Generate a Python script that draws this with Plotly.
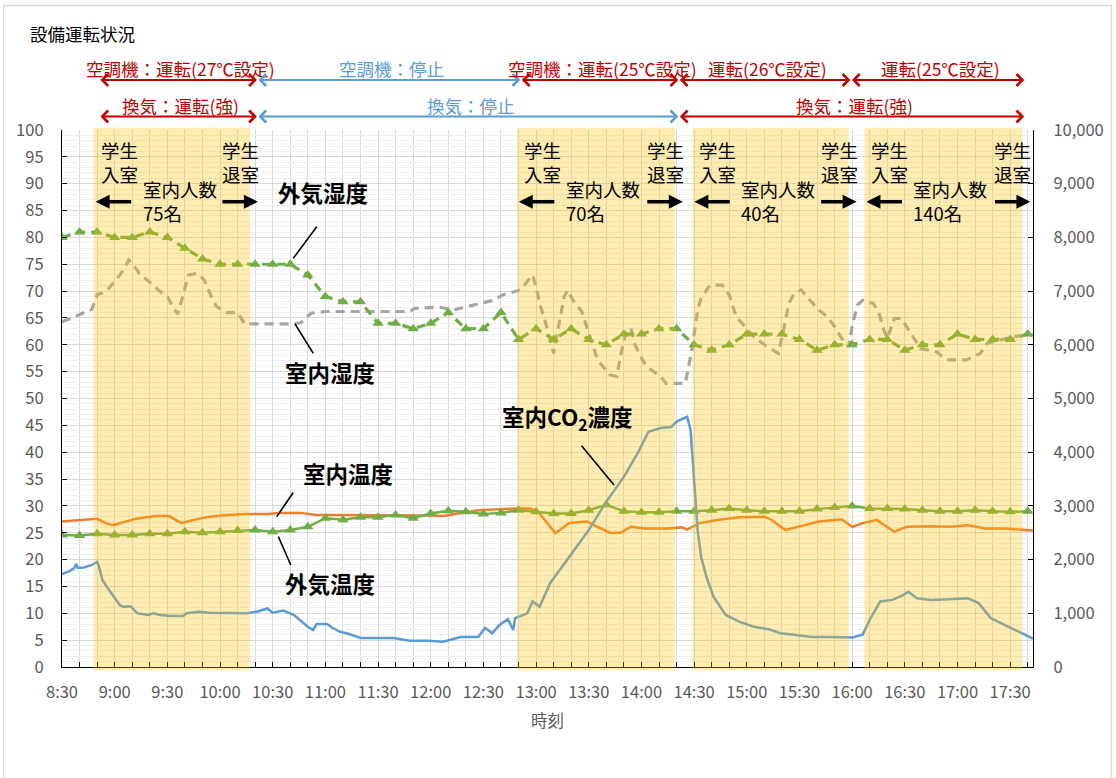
import plotly.graph_objects as go

# ---------------- data ----------------
tick_labels = ["8:30", "9:00", "9:30", "10:00", "10:30", "11:00", "11:30", "12:00", "12:30",
               "13:00", "13:30", "14:00", "14:30", "15:00", "15:30", "16:00", "16:30", "17:00", "17:30"]

# indoor CO2 (ppm, right axis)
co2_time = ["8:30", "8:34", "8:37", "8:38", "8:39", "8:42", "8:47", "8:49", "8:50", "8:51", "8:53", "8:56",
            "8:59", "9:03", "9:05", "9:09", "9:13", "9:19", "9:22", "9:26", "9:32", "9:39", "9:41", "9:48",
            "9:54", "10:00", "10:07", "10:15", "10:21", "10:27", "10:30", "10:36", "10:42", "10:50", "10:53",
            "10:55", "11:01", "11:04", "11:08", "11:14", "11:20", "11:29", "11:39", "11:48", "11:58", "12:07",
            "12:17", "12:27", "12:31", "12:35", "12:39", "12:44", "12:47", "12:48", "12:52", "12:55", "12:58",
            "13:02", "13:08", "13:19", "13:30", "13:40", "13:50", "13:58", "14:04", "14:11", "14:17", "14:20",
            "14:26", "14:28", "14:30", "14:32", "14:34", "14:37", "14:41", "14:48", "14:56", "15:04", "15:13",
            "15:19", "15:27", "15:37", "15:47", "16:00", "16:06", "16:10", "16:16", "16:23", "16:29", "16:32",
            "16:37", "16:45", "16:55", "17:06", "17:12", "17:19", "17:27", "17:35", "17:43"]
co2_ppm = [1730, 1780, 1840, 1920, 1850, 1850, 1900, 1950, 1960, 1880, 1620, 1470,
           1340, 1150, 1120, 1130, 1000, 970, 1000, 970, 950, 950, 1000, 1030,
           1010, 1010, 1000, 1000, 1030, 1090, 1010, 1050, 970, 750, 690,
           800, 800, 730, 660, 610, 540, 540, 540, 490, 490, 470,
           560, 560, 730, 630, 780, 890, 690, 910, 970, 1000, 1220,
           1120, 1560, 2050, 2550, 3080, 3540, 3990, 4380, 4450, 4470, 4570,
           4660, 4410, 3480, 2550, 2050, 1680, 1310, 970, 840, 750, 700,
           630, 600, 560, 560, 550, 600, 880, 1220, 1250, 1340, 1400,
           1280, 1250, 1260, 1280, 1190, 910, 780, 660, 530]

# indoor humidity (%)
rh_in_time = ["8:30", "8:35", "8:44", "8:47", "8:50", "8:55", "9:00", "9:05", "9:08", "9:10", "9:14", "9:19",
              "9:26", "9:30", "9:33", "9:36", "9:40", "9:42", "9:47", "9:51", "9:55", "9:58", "10:04", "10:10",
              "10:14", "10:23", "10:42", "10:46", "10:52", "11:01", "11:20", "11:48", "11:51", "12:05", "12:13",
              "12:20", "12:28", "12:36", "12:41", "12:51", "12:58", "13:00", "13:02", "13:05", "13:10", "13:12",
              "13:14", "13:16", "13:18", "13:21", "13:26", "13:35", "13:42", "13:46", "13:48", "13:51", "13:54",
              "13:56", "13:59", "14:03", "14:11", "14:14", "14:25", "14:27", "14:29", "14:32", "14:34", "14:39",
              "14:46", "14:50", "14:54", "14:59", "15:04", "15:10", "15:15", "15:18", "15:21", "15:24", "15:27",
              "15:31", "15:36", "15:41", "15:46", "15:50", "15:54", "15:58", "16:00", "16:03", "16:06", "16:12",
              "16:15", "16:18", "16:20", "16:24", "16:28", "16:32", "16:36", "16:39", "16:48", "16:54", "17:05",
              "17:13", "17:17", "17:24", "17:32", "17:40", "17:43"]
rh_in = [64.3, 64.9, 66.2, 66.6, 69.3, 69.9, 71.8, 73.9, 75.8, 75.2, 73.3, 71.9,
         69.9, 69.0, 67.1, 65.7, 70.8, 73.0, 73.3, 72.1, 69.0, 67.1, 66.0, 66.0,
         63.9, 63.9, 63.9, 64.1, 65.9, 66.2, 66.2, 66.2, 66.8, 67.0, 66.5,
         67.0, 67.7, 68.3, 69.3, 70.2, 73.0, 70.8, 67.7, 64.6, 58.4, 62.1,
         65.9, 69.0, 70.2, 68.3, 66.2, 57.2, 54.4, 54.1, 57.8, 62.1, 63.1,
         60.3, 58.1, 55.9, 54.1, 52.8, 52.8, 56.6, 59.6, 66.5, 68.7, 71.1,
         71.1, 69.3, 65.2, 63.4, 61.5, 60.0, 59.0, 58.4, 62.8, 67.7, 69.6,
         70.2, 68.3, 66.5, 65.2, 63.4, 61.2, 59.6, 63.4, 67.4, 68.3, 67.7,
         66.2, 62.8, 61.2, 64.9, 64.9, 62.8, 60.9, 59.3, 58.7, 57.2, 57.2,
         58.4, 60.3, 60.9, 61.5, 61.8, 61.8]

# outdoor data every 10 minutes from 8:30
outdoor_time = ["8:30", "8:40", "8:50", "9:00", "9:10", "9:20", "9:30", "9:40", "9:50", "10:00",
                "10:10", "10:20", "10:30", "10:40", "10:50", "11:00", "11:10", "11:20", "11:30", "11:40",
                "11:50", "12:00", "12:10", "12:20", "12:30", "12:40", "12:50", "13:00", "13:10", "13:20",
                "13:30", "13:40", "13:50", "14:00", "14:10", "14:20", "14:30", "14:40", "14:50", "15:00",
                "15:10", "15:20", "15:30", "15:40", "15:50", "16:00", "16:10", "16:20", "16:30", "16:40",
                "16:50", "17:00", "17:10", "17:20", "17:30", "17:40"]
rh_out = [80, 81, 81, 80, 80, 81, 80, 78, 76, 75,
          75, 75, 75, 75, 73, 69, 68, 68, 64, 64,
          63, 64, 66, 63, 63, 66, 61, 63, 61, 63,
          61, 60, 62, 62, 63, 63, 60, 59, 60, 62,
          62, 62, 61, 59, 60, 60, 61, 61, 59, 60,
          60, 62, 61, 61, 61, 62]
temp_out = [24.6, 24.5, 24.8, 24.6, 24.6, 24.8, 24.8, 25.2, 25.0, 25.2,
            25.4, 25.5, 25.2, 25.5, 26.1, 27.7, 27.4, 27.9, 27.9, 28.3,
            27.7, 28.6, 29.1, 28.9, 28.5, 28.7, 29.2, 28.9, 28.6, 28.6,
            29.2, 30.2, 29.0, 28.8, 28.8, 29.0, 29.0, 29.2, 29.5, 29.2,
            29.0, 29.0, 29.0, 29.4, 29.7, 30.0, 29.5, 29.5, 29.4, 29.2,
            29.0, 29.0, 29.2, 29.0, 28.9, 29.0]

# indoor temperature (deg C)
temp_in_time = ["8:30", "8:47", "8:50", "8:55", "8:59", "9:03", "9:11", "9:18", "9:24", "9:31", "9:38", "9:45",
                "9:54", "10:04", "10:15", "10:27", "10:34", "10:46", "10:55", "11:07", "11:20", "11:39", "11:58",
                "12:07", "12:17", "12:27", "12:48", "12:57", "13:02", "13:11", "13:19", "13:29", "13:35", "13:42",
                "13:48", "13:54", "14:02", "14:15", "14:23", "14:26", "14:33", "14:44", "14:56", "15:10", "15:14",
                "15:22", "15:29", "15:41", "15:54", "16:00", "16:06", "16:14", "16:24", "16:31", "16:45", "16:56",
                "17:06", "17:16", "17:27", "17:43"]
temp_in = [27.1, 27.5, 27.6, 26.8, 26.4, 26.8, 27.5, 27.9, 28.1, 28.1, 26.8, 27.4,
           28.0, 28.3, 28.5, 28.5, 28.7, 28.7, 28.3, 28.3, 28.3, 28.3, 28.2,
           28.1, 28.6, 29.2, 29.5, 29.5, 28.6, 24.9, 26.8, 27.1, 26.1, 25.0,
           25.0, 26.1, 25.8, 25.8, 26.0, 25.6, 26.8, 27.4, 27.9, 28.0, 27.4,
           25.5, 26.1, 27.1, 27.5, 26.1, 26.8, 27.4, 25.2, 26.1, 26.2, 26.1,
           26.4, 25.8, 25.8, 25.4]

# students in the room (shaded periods)
class_start = ["8:48", "12:49", "14:29", "16:07"]
class_end = ["10:17", "14:19", "15:58", "17:37"]
class_people = ["75名", "70名", "40名", "140名"]

# equipment status arrows
ac_start = ["8:51", "10:21", "12:51", "14:21", "15:59"]
ac_end = ["10:21", "12:51", "14:21", "15:59", "17:38"]
ac_text = ["空調機：運転(27℃設定)", "空調機：停止", "空調機：運転(25℃設定)", "運転(26℃設定)", "運転(25℃設定)"]
ac_on = [True, False, True, True, True]
vent_start = ["8:51", "10:21", "14:21"]
vent_end = ["10:21", "14:21", "17:38"]
vent_text = ["換気：運転(強)", "換気：停止", "換気：運転(強)"]
vent_on = [True, False, True]


def to_min(s):
    h, m = s.split(":")
    return (int(h) - 8) * 60 + int(m) - 30


# ---------------- layout constants ----------------
W, H = 1116, 778
ML, MR, MT, MB = 62, 83, 130, 111
PW, PH = W - ML - MR, H - MT - MB
X_END = to_min("17:43")
FONT = "Noto Sans CJK JP"
RED = "#C00000"
BLUE = "#5B9BD5"


def py2paper(py):
    return (H - MB - py) / PH


def px2paper(px):
    return (px - ML) / PW


fig = go.Figure()

fig.add_trace(go.Scatter(x=[to_min(t) for t in co2_time], y=co2_ppm, yaxis="y2", mode="lines",
                         line=dict(color=BLUE, width=2.5), name="室内CO2濃度"))
fig.add_trace(go.Scatter(x=[to_min(t) for t in rh_in_time], y=rh_in, mode="lines",
                         line=dict(color="#A5A5A5", width=3.2, dash="9px,6px"), name="室内湿度"))
fig.add_trace(go.Scatter(x=[to_min(t) for t in outdoor_time], y=rh_out, mode="lines+markers",
                         line=dict(color="#70AD47", width=3.2, dash="9px,6px"),
                         marker=dict(symbol="triangle-up", size=10, color="#70AD47"), name="外気湿度"))
fig.add_trace(go.Scatter(x=[to_min(t) for t in temp_in_time], y=temp_in, mode="lines",
                         line=dict(color="#ED7D31", width=2.5), name="室内温度"))
fig.add_trace(go.Scatter(x=[to_min(t) for t in outdoor_time], y=temp_out, mode="lines+markers",
                         line=dict(color="#70AD47", width=2.5),
                         marker=dict(symbol="triangle-up", size=10, color="#70AD47"), name="外気温度"))

shapes = []
# yellow shading for occupied periods
for s, e in zip(class_start, class_end):
    shapes.append(dict(type="rect", xref="x", yref="paper", x0=to_min(s), x1=to_min(e),
                       y0=-0.006, y1=1.004, fillcolor="rgba(255,192,0,0.30)", line=dict(width=0),
                       layer="above"))
# outer chart border
shapes.append(dict(type="rect", xref="paper", yref="paper", x0=px2paper(3.5), x1=px2paper(1111.5),
                   y0=py2paper(800), y1=py2paper(5.5), line=dict(color="#D9D9D9", width=1.3),
                   fillcolor="rgba(0,0,0,0)", layer="below"))

annotations = []
# title
annotations.append(dict(text="設備運転状況", xref="paper", yref="paper", x=px2paper(28), y=py2paper(33),
                        xanchor="left", yanchor="middle", showarrow=False,
                        font=dict(family=FONT, size=17.5, color="#000000")))
# axis title
annotations.append(dict(text="時刻", xref="paper", yref="paper", x=px2paper(547), y=py2paper(720),
                        xanchor="center", yanchor="middle", showarrow=False,
                        font=dict(family=FONT, size=16.5, color="#595959")))


def status_row(starts, ends, texts, flags, y_text, y_arrow):
    for s, e, t, on in zip(starts, ends, texts, flags):
        col = RED if on else BLUE
        annotations.append(dict(text="", xref="x", yref="paper", x=to_min(e), y=py2paper(y_arrow),
                                axref="x", ayref="pixel", ax=to_min(s), ay=0, showarrow=True,
                                arrowhead=4, startarrowhead=4, arrowside="end+start",
                                arrowwidth=2, arrowsize=1.15, startarrowsize=1.15, arrowcolor=col))
        annotations.append(dict(text=t, xref="x", yref="paper", x=(to_min(s) + to_min(e)) / 2,
                                y=py2paper(y_text), xanchor="center", yanchor="middle", xshift=3,
                                showarrow=False, font=dict(family=FONT, size=17.5, color=col)))


status_row(ac_start, ac_end, ac_text, ac_on, 69, 80)
status_row(vent_start, vent_end, vent_text, vent_on, 105.5, 116.5)

# occupancy annotations
for s, e, n in zip(class_start, class_end, class_people):
    x0, x1 = to_min(s), to_min(e)
    annotations.append(dict(text="学生<br>入室", xref="x", yref="y", x=x0, y=93.95, xanchor="left",
                            yanchor="middle", align="left", xshift=5, showarrow=False,
                            font=dict(family=FONT, size=18.5, color="#000000")))
    annotations.append(dict(text="学生<br>退室", xref="x", yref="y", x=x1, y=93.95, xanchor="left",
                            yanchor="middle", align="left", xshift=-30, showarrow=False,
                            font=dict(family=FONT, size=18.5, color="#000000")))
    annotations.append(dict(text="室内人数<br>" + n, xref="x", yref="y", x=x0, y=86.8, xanchor="left",
                            yanchor="middle", align="left", xshift=47, showarrow=False,
                            font=dict(family=FONT, size=18.5, color="#000000")))
    annotations.append(dict(text="", xref="x", yref="y", x=x0, y=86.65, xshift=2, ax=37, ay=0,
                            axref="pixel", ayref="pixel", showarrow=True, arrowhead=2, arrowsize=0.8,
                            arrowwidth=3.5, arrowcolor="#000000"))
    annotations.append(dict(text="", xref="x", yref="y", x=x1, y=86.65, xshift=8, ax=-37, ay=0,
                            axref="pixel", ayref="pixel", showarrow=True, arrowhead=2, arrowsize=0.8,
                            arrowwidth=3.5, arrowcolor="#000000"))

# series labels with leader lines: (text, label x[min], label y, line from, line to)
labels = [
    ("外気湿度", 148.9, 88.4, (145.1, 82.0), (131.7, 76.1)),
    ("室内湿度", 152.7, 55.0, (132.7, 63.9), (143.1, 58.4)),
    ("室内温度", 163.1, 36.2, (131.7, 32.5), (122.3, 28.0)),
    ("外気温度", 152.7, 15.7, (123.2, 24.3), (130.3, 19.0)),
    ("室内CO<sub>2</sub>濃度", 287.9, 46.4, (295.9, 41.2), (314.4, 33.9)),
]
for txt, lx, ly, p0, p1 in labels:
    annotations.append(dict(text="<b>" + txt + "</b>", xref="x", yref="y", x=lx, y=ly,
                            xanchor="center", yanchor="middle", showarrow=False,
                            font=dict(family=FONT, size=22.5, color="#000000")))
    shapes.append(dict(type="line", xref="x", yref="y", x0=p0[0], y0=p0[1], x1=p1[0], y1=p1[1],
                       line=dict(color="#000000", width=1.6), layer="above"))

tick_vals = [to_min(t) for t in tick_labels]

fig.update_layout(
    width=W, height=H,
    margin=dict(l=ML, r=MR, t=MT, b=MB, pad=0),
    paper_bgcolor="white", plot_bgcolor="white",
    showlegend=False,
    font=dict(family=FONT, color="#595959", size=16),
    shapes=shapes, annotations=annotations,
    xaxis=dict(range=[0, X_END], tickvals=tick_vals, ticktext=tick_labels,
               showgrid=True, gridcolor="#D9D9D9", gridwidth=1,
               ticks="inside", ticklen=5, tickcolor="#000000",
               showline=True, linecolor="#000000", linewidth=1.2, zeroline=False,
               ticklabelstandoff=10,
               minor=dict(tick0=0, dtick=10, ticks="inside", ticklen=5, tickcolor="#000000",
                          showgrid=True, gridcolor="#D9D9D9", gridwidth=1),
               tickfont=dict(family=FONT, size=16.5, color="#595959")),
    yaxis=dict(range=[0, 100], dtick=5, tick0=0, showgrid=True, gridcolor="#D9D9D9", gridwidth=1,
               ticks="inside", ticklen=5, tickcolor="#000000",
               showline=True, linecolor="#000000", linewidth=1.2, zeroline=False,
               ticklabelstandoff=14,
               minor=dict(dtick=1, showgrid=True, gridcolor="#F0F0F0", gridwidth=1),
               tickfont=dict(family=FONT, size=16.5, color="#595959")),
    yaxis2=dict(range=[0, 10000], dtick=1000, tick0=0, overlaying="y", side="right",
                showgrid=False, ticks="inside", ticklen=5, tickcolor="#000000",
                showline=True, linecolor="#000000", linewidth=1.2, zeroline=False,
                tickformat=",d", ticklabelstandoff=16,
                tickfont=dict(family=FONT, size=16.5, color="#595959")),
)

fig.write_html("out.html")
